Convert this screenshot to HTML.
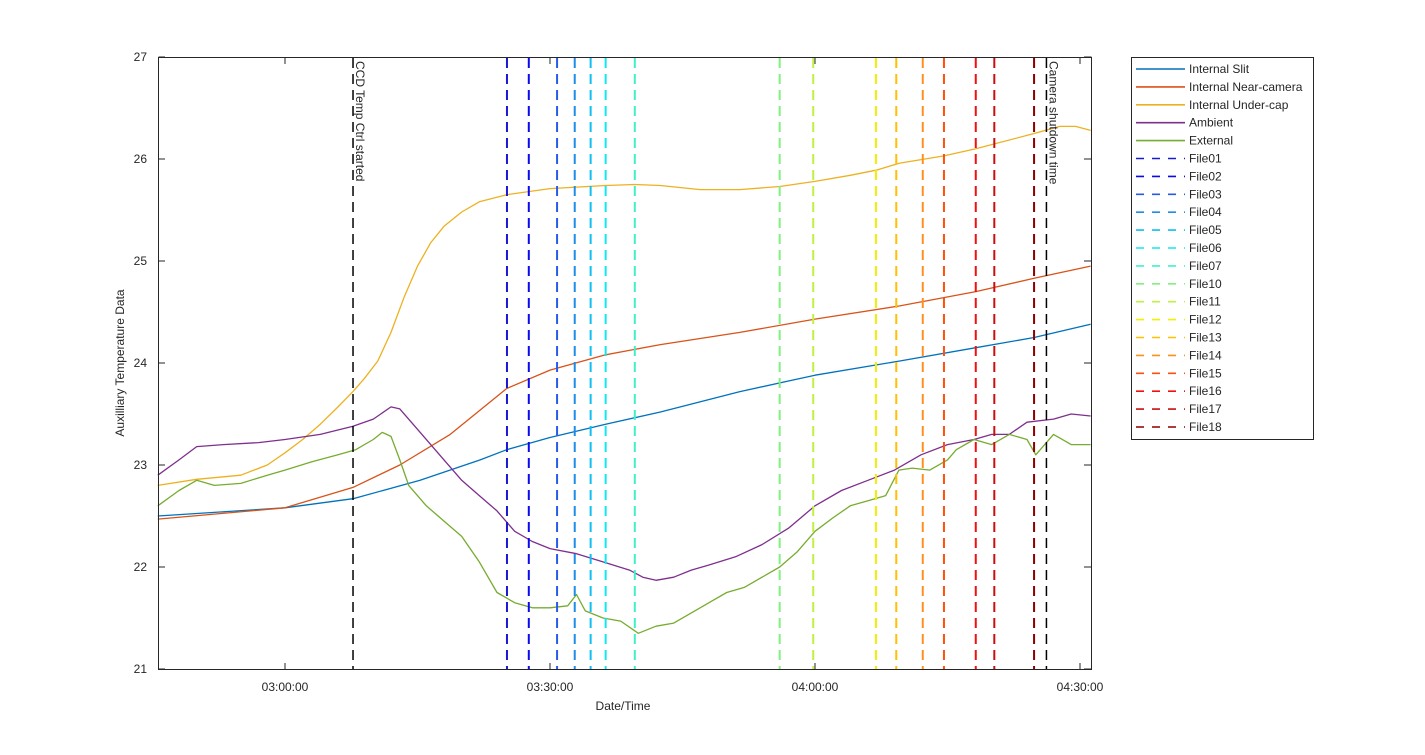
<!DOCTYPE html>
<html><head><meta charset="utf-8"><style>
body{margin:0;background:#fff;width:1425px;height:750px;overflow:hidden;font-family:"Liberation Sans",sans-serif}
svg text{font-family:"Liberation Sans",sans-serif;font-size:12px;fill:#262626}
</style></head><body>
<svg id="chart" width="1425" height="750" xmlns="http://www.w3.org/2000/svg">
<rect x="0" y="0" width="1425" height="750" fill="#fff"/>
<g id="plot"></g>
<rect x="158.5" y="57.5" width="933" height="612" fill="none" stroke="#262626" stroke-width="1"/>
<g id="ticks"></g>
<text x="623" y="710" text-anchor="middle">Date/Time</text>
<text transform="translate(124,363) rotate(-90)" text-anchor="middle">Auxilliary Temperature Data</text>
<g id="legend"></g>
</svg>
<script>
const seriesNames=["Internal Slit","Internal Near-camera","Internal Under-cap","Ambient","External"];
const seriesColors=["#0072BD","#D95319","#EDB120","#7E2F8E","#77AC30"];
const slitT=[-14.4,0,7.7,15.3,22.1,25.1,30,36.3,42.5,51.5,60,69.6,78.2,84.8,91.2];
const slitV=[22.50,22.58,22.67,22.85,23.05,23.15,23.27,23.40,23.52,23.72,23.88,24.02,24.15,24.25,24.38];
const nearT=[-14.4,0,7.7,13,18.7,25.1,30,36.3,42.5,51.5,60,69.6,78.2,84.8,91.2];
const nearV=[22.47,22.58,22.78,23.0,23.3,23.75,23.93,24.08,24.18,24.30,24.43,24.56,24.70,24.83,24.95];
const capT=[-14.4,-10,-5,-2,0,2,4,6,7.7,9,10.5,12,13.5,15,16.5,18,20,22,25.1,30,36.3,39.6,42.5,47,51.5,56,60,64,66.9,69.6,74.6,78.2,84.8,87.7,89.5,91.2];
const capV=[22.8,22.86,22.9,23.0,23.12,23.25,23.4,23.57,23.72,23.85,24.02,24.3,24.65,24.95,25.18,25.34,25.48,25.58,25.65,25.71,25.74,25.75,25.74,25.70,25.70,25.73,25.78,25.84,25.89,25.96,26.03,26.10,26.25,26.32,26.32,26.28];
const ambT=[-14.4,-12,-10,-7,-3,0,4,7.7,10,12,13,15,18,20,22,24,26,28,30,33,36,39,40.5,42,44,46,48,51,54,57,60,63,66,69,72,75,78,80,82,84,87,89,91.2];
const ambV=[22.9,23.05,23.18,23.2,23.22,23.25,23.3,23.38,23.45,23.57,23.55,23.35,23.05,22.85,22.7,22.55,22.35,22.25,22.18,22.13,22.05,21.97,21.9,21.87,21.9,21.97,22.02,22.1,22.22,22.38,22.6,22.75,22.85,22.95,23.1,23.2,23.25,23.3,23.3,23.42,23.45,23.5,23.48];
const extT=[-14.4,-12,-10,-8,-5,-2,0,3,6,8,10,11,12,13,14,16,18,20,22,24,26,28,30,32,33,34,36,38,40,42,44,46,48,50,52,54,56,58,60,62,64,66,68,69.5,71,73,75,76,78,80,82,84,85,87,89,91.2];
const extV=[22.6,22.75,22.85,22.8,22.82,22.9,22.95,23.03,23.1,23.15,23.25,23.32,23.28,23.05,22.8,22.6,22.45,22.3,22.05,21.75,21.65,21.6,21.6,21.62,21.73,21.57,21.5,21.47,21.35,21.42,21.45,21.55,21.65,21.75,21.8,21.9,22.0,22.15,22.35,22.48,22.6,22.65,22.7,22.95,22.97,22.95,23.05,23.15,23.25,23.2,23.3,23.25,23.1,23.3,23.2,23.2];
const fileNames=["File01","File02","File03","File04","File05","File06","File07","File10","File11","File12","File13","File14","File15","File16","File17","File18"];
const fileTimes=[25.13,27.6,30.8,32.8,34.6,36.3,39.6,56.0,59.8,66.9,69.2,72.2,74.6,78.2,80.3,84.8];
const fileColors=["#1a1ad0","#0a0af0","#2a5ae8","#1e8ce8","#10bef0","#10e8f0","#40f0c8","#80f080","#c0f040","#f0f000","#ffc000","#ff9020","#ff5010","#f01010","#c81010","#8c0000"];
const eventTimes=[7.7,86.2];
const eventLabels=["CCD Temp Ctrl started","Camera shutdown time"];
const yTicks=[21,22,23,24,25,26,27];
const xTickMins=[0,30,60,90];
const xTickLabels=["03:00:00","03:30:00","04:00:00","04:30:00"];

const NS="http://www.w3.org/2000/svg";
const X=m=>285+m*(265/30);
const Y=v=>669-(v-21)*102;
function mk(tag,attrs,parent){const e=document.createElementNS(NS,tag);for(const k in attrs)e.setAttribute(k,attrs[k]);parent.appendChild(e);return e;}
const plot=document.getElementById('plot'),ticks=document.getElementById('ticks'),leg=document.getElementById('legend');

yTicks.forEach(v=>{
 const t=mk('text',{x:147,y:Y(v)+4,'text-anchor':'end'},ticks);t.textContent=v;
 
 
 mk('line',{x1:158.5,x2:165,y1:Y(v),y2:Y(v),stroke:'#262626'},ticks);
 mk('line',{x1:1084,x2:1091.5,y1:Y(v),y2:Y(v),stroke:'#262626'},ticks);
});
xTickMins.forEach((m,i)=>{
 const t=mk('text',{x:X(m),y:691,'text-anchor':'middle'},ticks);t.textContent=xTickLabels[i];
 
 
 mk('line',{x1:X(m),x2:X(m),y1:669.5,y2:663,stroke:'#262626'},ticks);
 mk('line',{x1:X(m),x2:X(m),y1:57.5,y2:64,stroke:'#262626'},ticks);
});

const allT=[slitT,nearT,capT,ambT,extT],allV=[slitV,nearV,capV,ambV,extV];
const seriesKeys=['internal-slit','internal-near-camera','internal-under-cap','ambient','external'];
allT.forEach((ts,i)=>{
 const d=ts.map((t,j)=>(j?'L':'M')+X(t).toFixed(1)+','+Y(allV[i][j]).toFixed(1)).join('');
 const p=mk('path',{d:d,fill:'none',stroke:seriesColors[i],'stroke-width':1.3,'stroke-linejoin':'round'},plot);
 
 
});
fileTimes.forEach((t,i)=>{
 const l=mk('line',{x1:X(t),x2:X(t),y1:58,y2:669,stroke:fileColors[i],'stroke-width':2,'stroke-dasharray':'10,6'},plot);
 
 
});
eventTimes.forEach((t,i)=>{
 const l=mk('line',{x1:X(t),x2:X(t),y1:58,y2:669,stroke:'#000','stroke-width':1.5,'stroke-dasharray':'10,6'},plot);
 
 
 const tx=mk('text',{transform:'translate('+(X(t)+3)+',61) rotate(90)',fill:'#000'},plot);
 tx.textContent=eventLabels[i];
 
 
});

mk('rect',{x:1131.5,y:57.5,width:182,height:382,fill:'#fff',stroke:'#262626'},leg);
const names=seriesNames.concat(fileNames),cols=seriesColors.concat(fileColors);
names.forEach((n,i)=>{
 const y=69+i*17.9;
 mk('line',{x1:1136,x2:1185,y1:y,y2:y,stroke:cols[i],'stroke-width':1.6,'stroke-dasharray':i<5?'none':'8,8'},leg);
 const t=mk('text',{x:1189,y:y+4,'font-size':'11px'},leg);t.textContent=n;
 
 
});
</script>
</body></html>
